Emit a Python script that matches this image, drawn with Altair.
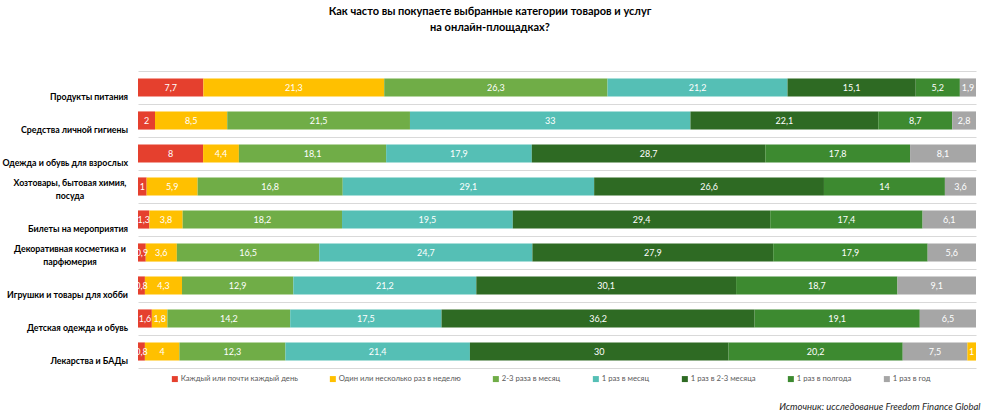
import altair as alt
import pandas as pd

categories = [
    "Продукты питания",
    "Средства личной гигиены",
    "Одежда и обувь для взрослых",
    "Хозтовары, бытовая химия,\nпосуда",
    "Билеты на мероприятия",
    "Декоративная косметика и\nпарфюмерия",
    "Игрушки и товары для хобби",
    "Детская одежда и обувь",
    "Лекарства и БАДы",
]

series_names = [
    "Каждый или почти каждый день",
    "Один или несколько раз в неделю",
    "2-3 раза в месяц",
    "1 раз в месяц",
    "1 раз в 2-3 месяца",
    "1 раз в полгода",
    "1 раз в год",
]

colors = ["#E5402E", "#FFC000", "#70AD47", "#55BFB5", "#2E6A23", "#3D8A30", "#A6A6A6"]

s_daily = [7.7, 2, 8, 1, 1.3, 0.9, 0.8, 1.6, 0.8]
s_weekly = [21.3, 8.5, 4.4, 5.9, 3.8, 3.6, 4.3, 1.8, 4]
s_2_3_month = [26.3, 21.5, 18.1, 16.8, 18.2, 16.5, 12.9, 14.2, 12.3]
s_month = [21.2, 33, 17.9, 29.1, 19.5, 24.7, 21.2, 17.5, 21.4]
s_2_3_months = [15.1, 22.1, 28.7, 26.6, 29.4, 27.9, 30.1, 36.2, 30]
s_halfyear = [5.2, 8.7, 17.8, 14, 17.4, 17.9, 18.7, 19.1, 20.2]
s_year = [1.9, 2.8, 8.1, 3.6, 6.1, 5.6, 9.1, 6.5, 7.5]

# extra trailing segment present in the last row of the original
extra_category = "Лекарства и БАДы"
extra_series = "Один или несколько раз в неделю"
extra_value = 1

series_values = [s_daily, s_weekly, s_2_3_month, s_month, s_2_3_months, s_halfyear, s_year]


def fmt(v):
    return f"{v:g}".replace(".", ",")


rows = []
for si, (name, vals) in enumerate(zip(series_names, series_values)):
    for ci, cat in enumerate(categories):
        rows.append({"cat": cat, "series": name, "ord": si, "value": vals[ci], "label": fmt(vals[ci])})
rows.append({"cat": extra_category, "series": extra_series, "ord": 7, "value": extra_value, "label": fmt(extra_value)})
df = pd.DataFrame(rows)
cat_df = pd.DataFrame({"cat": categories, "nlines": [c.count("\n") + 1 for c in categories]})

title_lines = ["Как часто вы покупаете выбранные категории товаров и услуг", "на онлайн-площадках?"]
source_text = "Источник: исследование Freedom Finance Global"

W, H = 838, 297

y_enc = alt.Y(
    "cat:N",
    sort=categories,
    scale=alt.Scale(paddingInner=0, paddingOuter=0),
    axis=alt.Axis(
        title=None, labels=False, ticks=False, domain=False,
        grid=True, tickBand="extent", gridColor="#D9D9D9", gridWidth=1,
    ),
)

base = alt.Chart(df).transform_stack(
    stack="value",
    groupby=["cat"],
    sort=[alt.SortField("ord", order="ascending")],
    as_=["x0", "x1"],
    offset="normalize",
).transform_calculate(xm="(datum.x0 + datum.x1) / 2")

bars = base.mark_bar(height=alt.RelativeBandSize(band=0.55)).encode(
    x=alt.X(
        "x0:Q",
        scale=alt.Scale(domain=[0, 1], nice=False, zero=True),
        axis=alt.Axis(
            title=source_text, labels=False, ticks=False, grid=False, domain=False,
            titleAnchor="end", titleFontStyle="italic", titleFontWeight="normal",
            titleFontSize=9.5, titleColor="#262626", titlePadding=33, titleX=W + 4,
            titleAlign="right",
        ),
    ),
    x2="x1:Q",
    y=y_enc,
    color=alt.Color(
        "series:N",
        scale=alt.Scale(domain=series_names, range=colors),
        legend=alt.Legend(
            title=None, orient="none", legendX=33, legendY=304, direction="horizontal",
            symbolType="square", symbolSize=36, symbolStrokeWidth=0,
            labelFontSize=7.7, labelColor="#595959", columnPadding=31, labelOffset=2,
        ),
    ),
    order=alt.Order("ord:Q"),
)

values = base.mark_text(color="white", fontSize=9).encode(
    x=alt.X("xm:Q"),
    y=y_enc,
    text="label:N",
)

label_style = dict(
    baseline="bottom", fontWeight="bold", fontSize=8.8, lineBreak="\n",
    lineHeight=13, color="#000000",
)

cat_labels_1 = alt.Chart(cat_df).transform_filter("datum.nlines == 1").mark_text(
    align="right", dx=-10, dy=14, **label_style
).encode(
    y=alt.Y("cat:N", sort=categories),
    x=alt.value(0),
    text="cat:N",
)

cat_labels_2 = alt.Chart(cat_df).transform_filter("datum.nlines == 2").mark_text(
    align="center", dx=-68, dy=1, **label_style
).encode(
    y=alt.Y("cat:N", sort=categories),
    x=alt.value(0),
    text="cat:N",
)

chart = alt.layer(bars, values, cat_labels_1, cat_labels_2).properties(
    width=W,
    height=H,
    title=alt.TitleParams(
        text=title_lines, fontSize=11, fontWeight="bold", anchor="middle",
        dx=-67, offset=38, color="#000000", lineHeight=16,
    ),
    autosize=alt.AutoSizeParams(type="none"),
    padding={"left": 138, "top": 71, "right": 8, "bottom": 51},
).configure(
    font="Lato",
).configure_view(stroke=None)

chart.save("out.html", embed_options={"renderer": "svg", "actions": False})
